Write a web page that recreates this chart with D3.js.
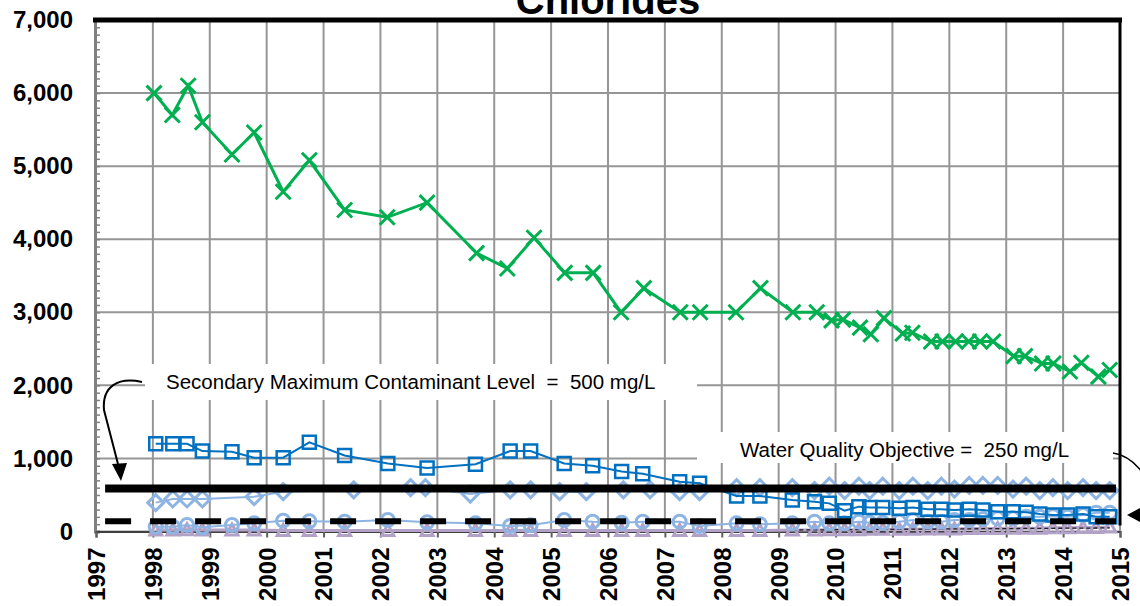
<!DOCTYPE html>
<html lang="en">
<head>
  <meta charset="UTF-8">
  <title>Chlorides</title>
  <script src="https://cdn.jsdelivr.net/npm/d3@7"></script>
</head>
<body>
<style>
  * {
    padding: 0;
    margin: 0;
  }
  body {
    background: #fff;
  }
  #app {
    width: 1140px;
    height: 606px;
  }
  #app text {
    font-family: "Liberation Sans", Arial, sans-serif;
  }
</style>

<div id="app"></div>

<script>
  // ---- data ----
  const title = "Chlorides";
  const yTicks = [0, 1000, 2000, 3000, 4000, 5000, 6000, 7000];
  const xTicks = [1997, 1998, 1999, 2000, 2001, 2002, 2003, 2004, 2005, 2006,
    2007, 2008, 2009, 2010, 2011, 2012, 2013, 2014, 2015];

  // green X series
  const greenDates = [1998.02, 1998.34, 1998.62, 1998.87, 1999.39, 1999.78, 2000.29, 2000.75, 2001.37, 2002.12,
    2002.82, 2003.69, 2004.23, 2004.70, 2005.24, 2005.74, 2006.23, 2006.63, 2007.27, 2007.62,
    2008.25, 2008.68, 2009.25, 2009.67, 2009.93, 2010.13, 2010.43, 2010.62, 2010.85, 2011.18,
    2011.35, 2011.68, 2011.88, 2012.11, 2012.34, 2012.54, 2012.77, 2013.13, 2013.33, 2013.63,
    2013.83, 2014.12, 2014.32, 2014.62, 2014.82];
  const greenValues = [6000, 5700, 6100, 5600, 5160, 5460, 4650, 5080, 4400, 4300,
    4500, 3810, 3600, 4020, 3540, 3540, 3000, 3330, 3000, 3000,
    3000, 3330, 3000, 3000, 2890, 2900, 2790, 2700, 2920, 2710,
    2720, 2600, 2600, 2600, 2600, 2600, 2600, 2400, 2400, 2300,
    2300, 2190, 2310, 2120, 2210];

  // sampling dates shared by the square / circle / triangle wells
  const wellDates = [1998.05, 1998.35, 1998.60, 1998.87, 1999.39, 1999.78, 2000.29, 2000.75, 2001.37, 2002.13,
    2002.82, 2003.67, 2004.28, 2004.64, 2005.23, 2005.73, 2006.24, 2006.61, 2007.26, 2007.61,
    2008.26, 2008.67, 2009.24, 2009.63, 2009.89, 2010.16, 2010.41, 2010.60, 2010.83, 2011.12,
    2011.36, 2011.62, 2011.86, 2012.09, 2012.35, 2012.59, 2012.85, 2013.12, 2013.35, 2013.59,
    2013.82, 2014.08, 2014.35, 2014.58, 2014.82];
  const squareValues = [1200, 1200, 1200, 1100, 1090, 1010, 1010, 1220, 1040, 930,
    870, 920, 1100, 1100, 930, 900, 820, 790, 680, 660,
    485, 485, 430, 408, 385, 285, 340, 330, 330, 317,
    330, 303, 303, 295, 303, 295, 271, 271, 262, 240,
    226, 226, 240, 203, 203];
  const circleValues = [66, 66, 89, 57, 89, 112, 148, 140, 134, 157,
    126, 112, 75, 85, 157, 134, 120, 134, 134, 75,
    112, 100, 112, 134, 112, 112, 134, 120, 120, 134,
    157, 134, 134, 157, 157, 170, 180, 180, 202, 202,
    210, 202, 225, 257, 257];
  const triangleValues = [20, 20, 25, 20, 20, 20, 15, 15, 15, 15,
    15, 15, 15, 15, 15, 15, 15, 15, 15, 15,
    15, 15, 20, 20, 25, 25, 25, 30, 30, 30,
    30, 35, 35, 35, 40, 40, 40, 45, 45, 45,
    50, 50, 55, 55, 60];

  // thin dashed series near zero (from 2009 on)
  const dashDates = [2009.24, 2009.63, 2009.89, 2010.16, 2010.41, 2010.60, 2010.83, 2011.12, 2011.36, 2011.62,
    2011.86, 2012.09, 2012.35, 2012.59, 2012.85, 2013.12, 2013.35, 2013.59, 2013.82, 2014.08,
    2014.35, 2014.58, 2014.82];
  const dashValues = [20, 22, 24, 25, 26, 28, 30, 30, 32, 33,
    35, 35, 36, 38, 40, 40, 42, 42, 44, 45,
    45, 48, 50];

  // light blue diamond series
  const diamondDates = [1998.05, 1998.35, 1998.60, 1998.87, 1999.78, 2000.29, 2001.53, 2002.53, 2002.79, 2003.58,
    2004.28, 2004.64, 2005.15, 2005.62, 2006.27, 2006.74, 2007.26, 2007.61, 2008.26, 2008.67,
    2009.24, 2009.63, 2009.89, 2010.16, 2010.41, 2010.60, 2010.83, 2011.12, 2011.36, 2011.62,
    2011.86, 2012.09, 2012.35, 2012.59, 2012.85, 2013.12, 2013.35, 2013.59, 2013.82, 2014.08,
    2014.35, 2014.58, 2014.82];
  const diamondValues = [395, 445, 445, 445, 477, 545, 570, 600, 600, 513,
    570, 570, 545, 545, 570, 570, 545, 545, 600, 600,
    600, 560, 620, 560, 620, 560, 620, 560, 620, 560,
    620, 580, 630, 630, 630, 580, 620, 560, 600, 560,
    600, 560, 560];

  // reference lines (as drawn)
  const smclLabel = "Secondary Maximum Contaminant Level  =  500 mg/L";
  const wqoLabel = "Water Quality Objective =  250 mg/L";
  const smclLevel = 590;
  const wqoLevel = 140;
  const refSpan = [1997.16, 2014.93];

  // ---- layout ----
  const $width = 1140, $height = 606;
  const pLeft = 96, pRight = 1120, pTop = 20, pBottom = 531.5;

  const svg = d3.select("#app").append("svg")
    .attr("width", $width).attr("height", $height)
    .style("background", "#fff");

  const x = d3.scaleLinear().domain([1997, 2015]).range([pLeft, pRight]);
  const y = d3.scaleLinear().domain([0, 7000]).range([pBottom, pTop]);

  const zip = (ds, vs) => ds.map((d, i) => [d, vs[i]]);

  /**
   * grid
   */
  const grid = svg.append("g").attr("stroke", "#969696").attr("stroke-width", 2);
  grid.selectAll("line.v").data(xTicks).enter().append("line").attr("class", "v")
    .attr("x1", d => x(d)).attr("x2", d => x(d)).attr("y1", pTop).attr("y2", pBottom);
  grid.selectAll("line.h").data(yTicks).enter().append("line").attr("class", "h")
    .attr("x1", pLeft).attr("x2", pRight).attr("y1", d => y(d)).attr("y2", d => y(d));

  /**
   * axes
   */
  const axisY = d3.axisLeft(y).tickValues(yTicks).tickSize(0).tickPadding(23)
    .tickFormat(d3.format(","));
  const gy = svg.append("g").attr("transform", "translate(" + pLeft + ",0)").call(axisY);
  gy.select(".domain").remove();
  gy.selectAll("text").attr("font-size", 24).attr("font-weight", "bold").attr("fill", "#000")
    .style("font-family", "'Liberation Sans', Arial, sans-serif");

  // minor ticks on the value axis, pointing inside
  const minor = d3.range(0, 7000, 100);
  const gm = svg.append("g").attr("transform", "translate(" + (pLeft - 1) + ",0)")
    .call(d3.axisRight(y).tickValues(minor).tickSize(5).tickFormat(""));
  gm.selectAll("line").attr("stroke", "#808080").attr("stroke-width", 1.5);
  gm.select(".domain").attr("stroke", "#808080").attr("stroke-width", 3);

  const axisX = d3.axisBottom(x).tickValues(xTicks).tickSize(6).tickFormat(d3.format("d"));
  const gx = svg.append("g").attr("transform", "translate(0," + pBottom + ")").call(axisX);
  gx.select(".domain").attr("stroke", "#404040").attr("stroke-width", 2);
  gx.selectAll("line").attr("stroke", "#606060").attr("stroke-width", 2);
  gx.selectAll("text")
    .attr("transform", "rotate(-90)")
    .attr("x", -16).attr("y", 0).attr("dy", "0.35em")
    .attr("text-anchor", "end")
    .attr("font-size", 24).attr("font-weight", "bold").attr("fill", "#000")
    .style("font-family", "'Liberation Sans', Arial, sans-serif");

  /**
   * series
   */
  const line = d3.line().x(d => x(d[0])).y(d => y(d[1]));

  function drawSeries(pts, color, width, marker, fill) {
    const g = svg.append("g");
    g.append("path").datum(pts).attr("d", line)
      .attr("fill", "none").attr("stroke", color).attr("stroke-width", width);
    g.selectAll("path.m").data(pts).enter().append("path").attr("class", "m")
      .attr("transform", d => "translate(" + x(d[0]) + "," + y(d[1]) + ")")
      .attr("d", marker)
      .attr("fill", fill).attr("stroke", color).attr("stroke-width", 3);
    return g;
  }

  const mkTriangle = "M0,-6L6,5L-6,5Z";
  const mkCircle = "M6.5,0A6.5,6.5 0 1,1 -6.5,0A6.5,6.5 0 1,1 6.5,0Z";
  const mkDiamond = "M0,-8L8,0L0,8L-8,0Z";
  const mkSquare = "M-6.5,-6.5H6.5V6.5H-6.5Z";
  const mkCross = "M-7.5,-7.5L7.5,7.5M-7.5,7.5L7.5,-7.5";

  drawSeries(zip(wellDates, triangleValues), "#B3A2C7", 3, mkTriangle, "none");
  const dg = svg.append("g");
  dg.append("path").datum(zip(dashDates, dashValues)).attr("d", line)
    .attr("fill", "none").attr("stroke", "#222").attr("stroke-width", 1.3)
    .attr("stroke-dasharray", "4,3");
  drawSeries(zip(wellDates, circleValues), "#8DB4E2", 2, mkCircle, "none");
  drawSeries(zip(diamondDates, diamondValues), "#8DB4E2", 2, mkDiamond, "none");
  drawSeries(zip(wellDates, squareValues), "#0070C0", 2, mkSquare, "none")
    .selectAll("path.m").attr("stroke-width", 2.5);
  drawSeries(zip(greenDates, greenValues), "#00B050", 3, mkCross, "none");

  /**
   * reference lines
   */
  svg.append("line")
    .attr("x1", x(refSpan[0])).attr("x2", x(refSpan[1]))
    .attr("y1", y(smclLevel)).attr("y2", y(smclLevel))
    .attr("stroke", "#000").attr("stroke-width", 8);
  svg.append("line")
    .attr("x1", x(refSpan[0])).attr("x2", x(refSpan[1]))
    .attr("y1", y(wqoLevel)).attr("y2", y(wqoLevel))
    .attr("stroke", "#000").attr("stroke-width", 6).attr("stroke-dasharray", "26,19");

  /**
   * frame
   */
  svg.append("line").attr("x1", pLeft - 3).attr("x2", pRight + 2).attr("y1", pTop).attr("y2", pTop)
    .attr("stroke", "#000").attr("stroke-width", 5);
  svg.append("line").attr("x1", pRight).attr("x2", pRight).attr("y1", pTop).attr("y2", pBottom - 6)
    .attr("stroke", "#000").attr("stroke-width", 3);

  /**
   * label boxes
   */
  svg.append("rect").attr("x", 145).attr("y", 364).attr("width", 552).attr("height", 36).attr("fill", "#fff");
  svg.append("text").attr("x", 166).attr("y", 389).text(smclLabel)
    .attr("font-size", 20.5).attr("fill", "#000").style("white-space", "pre");

  svg.append("rect").attr("x", 697).attr("y", 432).attr("width", 416).attr("height", 31).attr("fill", "#fff");
  svg.append("text").attr("x", 740).attr("y", 457).text(wqoLabel)
    .attr("font-size", 20.5).attr("fill", "#000").style("white-space", "pre");

  /**
   * arrows
   */
  svg.append("path").attr("d", "M142,382 C118,377 102,386 104,410 L118,464")
    .attr("fill", "none").attr("stroke", "#000").attr("stroke-width", 2);
  svg.append("path").attr("d", "M112,464 L127,463 L121,481 Z").attr("fill", "#000");

  svg.append("path").attr("d", "M1113,453 C1132,456 1150,475 1152,500")
    .attr("fill", "none").attr("stroke", "#000").attr("stroke-width", 1.5);
  svg.append("path").attr("d", "M1127,515 L1142,507 L1142,523 Z").attr("fill", "#000");

  /**
   * title
   */
  svg.append("text").attr("x", 608).attr("y", 14).attr("text-anchor", "middle")
    .attr("font-size", 40).attr("font-weight", "bold").attr("fill", "#000").text(title);
</script>

</body>
</html>
